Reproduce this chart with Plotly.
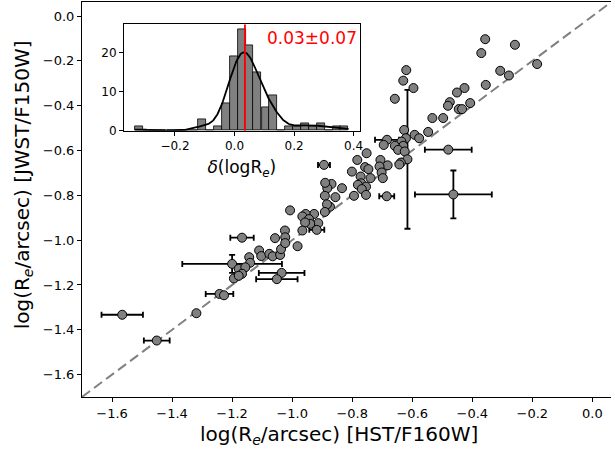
import numpy as np
import plotly.graph_objects as go

# ---------------- data ----------------
x_hst = [-0.357, -0.258, -0.370, -0.184, -0.307, -0.278, -0.620, -0.630, -0.596, -0.658,
         -0.355, -0.426, -0.451, -0.475, -0.481, -0.407, -0.445, -0.434, -0.533, -0.497,
         -0.547, -0.592, -0.577, -0.627, -0.621, -0.636, -0.630, -0.684, -0.695, -0.658,
         -0.647, -0.625, -0.616, -0.638, -0.643, -0.682, -0.706, -0.709, -0.702, -0.698,
         -0.480, -0.685, -0.463, -0.752, -0.783, -0.757, -0.746, -0.739, -0.801, -0.772,
         -0.770, -0.781, -0.754, -0.768, -0.754, -0.794, -0.834, -0.869, -0.883, -0.891,
         -0.856, -0.894, -0.874, -0.884, -0.891, -0.927, -0.955, -0.966, -0.944, -0.913,
         -0.940, -0.957, -0.918, -0.966, -1.007, -1.024, -0.890, -1.023, -1.057, -0.982,
         -1.110, -1.103, -1.076, -1.065, -1.040, -1.037, -1.023, -1.143, -1.140, -1.200,
         -1.178, -1.156, -1.167, -1.194, -1.178, -1.035, -1.051, -1.242, -1.227, -1.167,
         -1.319, -1.566, -1.451]
y_jwst = [-0.103, -0.128, -0.165, -0.214, -0.244, -0.265, -0.241, -0.288, -0.321, -0.369,
          -0.307, -0.321, -0.341, -0.384, -0.400, -0.388, -0.415, -0.415, -0.455, -0.455,
          -0.517, -0.530, -0.545, -0.508, -0.545, -0.560, -0.579, -0.552, -0.575, -0.579,
          -0.597, -0.604, -0.639, -0.654, -0.662, -0.666, -0.642, -0.671, -0.698, -0.723,
          -0.596, -0.804, -0.796, -0.612, -0.642, -0.674, -0.683, -0.723, -0.694, -0.716,
          -0.746, -0.753, -0.761, -0.772, -0.798, -0.802, -0.768, -0.749, -0.768, -0.802,
          -0.808, -0.664, -0.851, -0.840, -0.874, -0.883, -0.883, -0.894, -0.906, -0.924,
          -0.927, -0.921, -0.954, -0.957, -0.867, -0.957, -0.744, -0.987, -0.991, -1.027,
          -1.046, -1.071, -1.061, -1.072, -1.066, -1.040, -1.013, -1.076, -1.101, -1.106,
          -1.128, -1.121, -1.150, -1.171, -1.159, -1.146, -1.174, -1.240, -1.246, -0.989,
          -1.326, -1.333, -1.448]
x_err = [0, 0, 0, 0, 0, 0, 0, 0, 0, 0,
         0, 0, 0, 0, 0, 0, 0, 0, 0, 0,
         0, 0, 0, 0, 0, 0, 0, 0.040, 0, 0,
         0, 0, 0, 0, 0, 0, 0, 0, 0, 0,
         0.078, 0.025, 0.128, 0, 0, 0, 0, 0, 0, 0,
         0, 0, 0, 0, 0, 0, 0, 0, 0, 0,
         0, 0.020, 0, 0, 0, 0, 0, 0, 0, 0,
         0, 0, 0.025, 0, 0, 0, 0, 0, 0, 0,
         0, 0, 0, 0, 0, 0, 0, 0, 0, 0.166,
         0, 0, 0, 0, 0, 0.076, 0.069, 0.046, 0, 0.039,
         0, 0.069, 0.043]
y_err = [0, 0, 0, 0, 0, 0, 0, 0, 0, 0,
         0, 0, 0, 0, 0, 0, 0, 0, 0, 0,
         0, 0, 0, 0, 0, 0, 0, 0, 0, 0,
         0, 0, 0.310, 0, 0, 0, 0, 0, 0, 0,
         0, 0, 0.107, 0, 0, 0, 0, 0, 0, 0,
         0, 0, 0, 0, 0, 0, 0, 0, 0, 0,
         0, 0, 0, 0, 0, 0, 0, 0, 0, 0,
         0, 0, 0, 0, 0, 0, 0, 0, 0, 0,
         0, 0, 0, 0, 0, 0, 0, 0, 0, 0.040,
         0, 0, 0, 0, 0, 0, 0, 0, 0, 0,
         0, 0, 0]

# inset histogram of delta(log Re)
hist_centers = [-0.322, -0.295, -0.269, -0.242, -0.215, -0.189, -0.162, -0.136, -0.109,
                -0.082, -0.056, -0.029, -0.003, 0.024, 0.050, 0.077, 0.104, 0.130,
                0.157, 0.183, 0.210, 0.237, 0.263, 0.290, 0.316, 0.343, 0.369]
hist_counts = [1, 0, 0, 0, 0, 0, 0, 0, 3,
               0, 1, 7, 19, 26, 22, 15, 6, 9,
               0, 1, 1, 2, 1, 2, 0, 1, 1]
delta_median = 0.035
delta_label = "0.03±0.07"
data_min, data_max = -0.335, 0.383

# ---------------- KDE from histogram (Gaussian, Scott bandwidth) ----------------
c = np.array(hist_centers)
w = np.array(hist_counts, dtype=float)
n = w.sum()
bw_bin = float(np.mean(np.diff(c)))
mu = (c * w).sum() / n
sd = np.sqrt(((c - mu) ** 2 * w).sum() / n)
h = sd * n ** (-1 / 5)
xk = np.linspace(data_min, data_max, 300)
kde = (w[None, :] * np.exp(-0.5 * ((xk[:, None] - c[None, :]) / h) ** 2)).sum(axis=1)
kde = kde / (h * np.sqrt(2 * np.pi)) * bw_bin

FONT = "DejaVu Sans"
fig = go.Figure()

# 1:1 line
fig.add_trace(go.Scatter(x=[-1.7, 0.1], y=[-1.7, 0.1], mode="lines",
                         line=dict(color="gray", width=2, dash="10px,5px"),
                         hoverinfo="skip", showlegend=False))

# error bars (only for points with errors)
ex = [v if v > 0 else None for v in x_err]
ey = [v if v > 0 else None for v in y_err]
fig.add_trace(go.Scatter(x=x_hst, y=y_jwst, mode="markers",
                         marker=dict(size=1, color="rgba(0,0,0,0)"),
                         error_x=dict(type="data", array=ex, color="black", thickness=1.8, width=3),
                         error_y=dict(type="data", array=ey, color="black", thickness=1.8, width=3),
                         showlegend=False, hoverinfo="skip"))

# points
fig.add_trace(go.Scatter(x=x_hst, y=y_jwst, mode="markers",
                         marker=dict(size=9, color="gray", line=dict(color="black", width=1)),
                         showlegend=False))

# inset histogram
fig.add_trace(go.Bar(x=hist_centers, y=hist_counts, width=bw_bin,
                     marker=dict(color="gray", line=dict(color="black", width=0.8)),
                     xaxis="x2", yaxis="y2", showlegend=False))
fig.add_trace(go.Scatter(x=xk, y=kde, mode="lines", line=dict(color="black", width=1.8),
                         xaxis="x2", yaxis="y2", showlegend=False))
fig.add_trace(go.Scatter(x=[delta_median, delta_median], y=[0, 27.3], mode="lines",
                         line=dict(color="red", width=1.8),
                         xaxis="x2", yaxis="y2", showlegend=False))

axis_common = dict(showgrid=False, zeroline=False, showline=True, linecolor="black",
                   linewidth=1, ticks="outside", ticklen=4, tickwidth=1, tickcolor="black",
                   tickfont=dict(family=FONT, size=13, color="black"))
inset_ticks = {**axis_common, "tickfont": dict(family=FONT, size=12, color="black")}

fig.update_layout(
    width=615, height=454,
    margin=dict(l=82, r=0, t=2, b=57),
    plot_bgcolor="white", paper_bgcolor="white",
    font=dict(family=FONT, color="black"),
    xaxis=dict(range=[-1.7, 0.062], tickvals=[-1.6, -1.4, -1.2, -1.0, -0.8, -0.6, -0.4, -0.2, 0.0],
               tickformat=".1f", mirror=True, domain=[0, 1], **axis_common),
    yaxis=dict(range=[-1.7, 0.063], tickvals=[-1.6, -1.4, -1.2, -1.0, -0.8, -0.6, -0.4, -0.2, 0.0],
               tickformat=".1f", mirror=False, domain=[0, 1], **axis_common),
    xaxis2=dict(range=[-0.371, 0.42], tickvals=[-0.2, 0.0, 0.2, 0.4], tickformat=".1f",
                domain=[0.0794, 0.5248], anchor="y2", mirror=True,
                title=dict(text="<i>δ</i>(logR<sub><i>e</i></sub>)",
                           font=dict(family=FONT, size=17), standoff=9),
                **inset_ticks),
    yaxis2=dict(range=[0, 27.3], tickvals=[0, 10, 20], domain=[0.6742, 0.9435],
                anchor="x2", mirror=True, **inset_ticks),
    bargap=0,
    annotations=[
        dict(x=0.101, y=23.7, xref="x2", yref="y2", text=delta_label,
             showarrow=False, xanchor="left", yanchor="middle",
             font=dict(family=FONT, size=17, color="red")),
        dict(x=0.486, y=-0.096, xref="paper", yref="paper",
             text="log(R<sub><i>e</i></sub>/arcsec) [HST/F160W]",
             showarrow=False, xanchor="center", yanchor="middle", borderpad=0,
             font=dict(family=FONT, size=20, color="black")),
        dict(x=-0.1126, y=0.537, xref="paper", yref="paper",
             text="log(R<sub><i>e</i></sub>/arcsec) [JWST/F150W]", textangle=-90,
             showarrow=False, xanchor="center", yanchor="middle", borderpad=0,
             font=dict(family=FONT, size=20, color="black")),
    ],
)

fig.write_html("out.html")
